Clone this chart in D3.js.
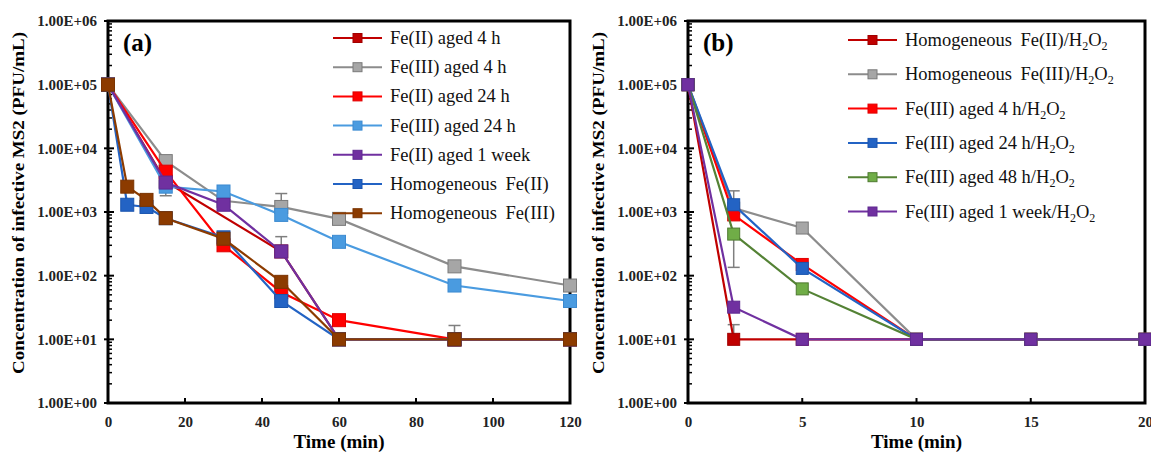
<!DOCTYPE html>
<html>
<head>
<meta charset="utf-8">
<script src="https://cdn.jsdelivr.net/npm/d3@7"></script>
<style>
  body { margin: 0; background: #fff; }
  svg { display: block; font-family: "Liberation Serif", "Times New Roman", serif; }
</style>
</head>
<body>
<div id="chart"></div>
<script>
// ---- data ----
const yTicks = [1, 10, 100, 1e3, 1e4, 1e5, 1e6];
const xTicksA = [0, 20, 40, 60, 80, 100, 120];
const xTicksB = [0, 5, 10, 15, 20];

// panel (a): time points, null = not measured / hidden
const timesA = [0, 5, 10, 15, 30, 45, 60, 90, 120];
const fe2Aged4h   = [1e5, null, null, 3000, null, 240, 10, 10, 10];
const fe3Aged4h   = [1e5, null, null, 6300, 1500, 1200, 780, 140, 70];
const fe2Aged24h  = [1e5, null, null, 4300, 300, 55, 20, 10, 10];
const fe3Aged24h  = [1e5, null, null, 2500, 2100, 900, 340, 70, 40];
const fe2Aged1wk  = [1e5, null, null, 2900, 1300, 240, 10, 10, 10];
const homFe2      = [1e5, 1300, 1200, 800, 400, 40, 10, 10, 10];
const homFe3      = [1e5, 2500, 1550, 800, 380, 80, 10, 10, 10];

// panel (b)
const timesB = [0, 2, 5, 10, 15, 20];
const homFe2H2O2    = [1e5, 10, 10, 10, 10, 10];
const homFe3H2O2    = [1e5, 1150, 560, 10, 10, 10];
const fe3Aged4hH2O2  = [1e5, 900, 150, 10, 10, 10];
const fe3Aged24hH2O2 = [1e5, 1300, 130, 10, 10, 10];
const fe3Aged48hH2O2 = [1e5, 450, 62, 10, 10, 10];
const fe3Aged1wkH2O2 = [1e5, 32, 10, 10, 10, 10];

// error bars: [time, from, to]
const errorsA = [[15, 2500, 1800], [45, 1200, 1950], [45, 240, 410], [90, 10, 16.5]];
const errorsB = [[2, 1300, 2150], [2, 450, 135], [2, 10, 17]];

const seriesA = [
  { name: "Fe(II) aged 4 h", values: fe2Aged4h, line: "#C00000", fill: "#C00000", stroke: "#A00000" },
  { name: "Fe(III) aged 4 h", values: fe3Aged4h, line: "#8C8C8C", fill: "#A6A6A6", stroke: "#7A7A7A" },
  { name: "Fe(II) aged 24 h", values: fe2Aged24h, line: "#FF0000", fill: "#FF0000", stroke: "#E00000" },
  { name: "Fe(III) aged 24 h", values: fe3Aged24h, line: "#4A9BE0", fill: "#4A9BE0", stroke: "#3C8AD0" },
  { name: "Fe(II) aged 1 week", values: fe2Aged1wk, line: "#7030A0", fill: "#7030A0", stroke: "#5E2890" },
  { name: "Homogeneous Fe(II)", values: homFe2, line: "#2363C4", fill: "#2363C4", stroke: "#1B55AE" },
  { name: "Homogeneous Fe(III)", values: homFe3, line: "#8C3B00", fill: "#8C3B00", stroke: "#7A3300" }
];
const seriesB = [
  { name: "Homogeneous Fe(II)/", values: homFe2H2O2, line: "#C00000", fill: "#C00000", stroke: "#A00000" },
  { name: "Homogeneous Fe(III)/", values: homFe3H2O2, line: "#8C8C8C", fill: "#A6A6A6", stroke: "#7A7A7A" },
  { name: "Fe(III) aged 4 h/", values: fe3Aged4hH2O2, line: "#FF0000", fill: "#FF0000", stroke: "#E00000" },
  { name: "Fe(III) aged 24 h/", values: fe3Aged24hH2O2, line: "#2363C4", fill: "#2363C4", stroke: "#1B55AE" },
  { name: "Fe(III) aged 48 h/", values: fe3Aged48hH2O2, line: "#548235", fill: "#70AD47", stroke: "#4E7A30" },
  { name: "Fe(III) aged 1 week/", values: fe3Aged1wkH2O2, line: "#7030A0", fill: "#7030A0", stroke: "#5E2890" }
];

const svg = d3.select("#chart").append("svg")
  .attr("width", 1151).attr("height", 453);

const fmtExp = d => "1.00E+" + String(Math.round(Math.log10(d))).padStart(2, "0");

function drawPanel(opt) {
  const x = d3.scaleLinear().domain(opt.xDomain).range([opt.left, opt.right]);
  const y = d3.scaleLog().domain([1, 1e6]).range([403, 21]);
  const g = svg.append("g");

  // tick labels
  g.append("g")
    .attr("transform", `translate(${opt.left},0)`)
    .call(d3.axisLeft(y).tickValues(yTicks).tickFormat(fmtExp).tickSize(0).tickPadding(11))
    .call(a => a.select(".domain").remove())
    .selectAll("text")
    .attr("font-family", "Liberation Serif, serif")
    .attr("font-weight", "bold").attr("font-size", 15).attr("fill", "#222");

  g.append("g")
    .attr("transform", "translate(0,403)")
    .call(d3.axisBottom(x).tickValues(opt.xTicks).tickSize(0).tickPadding(13))
    .call(a => a.select(".domain").remove())
    .selectAll("text")
    .attr("font-family", "Liberation Serif, serif")
    .attr("font-weight", "bold").attr("font-size", 15).attr("fill", "#222");

  // minor y ticks
  const minor = [];
  yTicks.slice(0, -1).forEach(d => { for (let k = 2; k <= 9; k++) minor.push(d * k); });
  g.selectAll(".ymin").data(minor).join("line")
    .attr("x1", opt.left).attr("x2", opt.left + 4)
    .attr("y1", d => y(d)).attr("y2", d => y(d))
    .attr("stroke", "#000").attr("stroke-width", 1.5);
  g.selectAll(".ymaj").data(yTicks).join("line")
    .attr("x1", opt.left - 4).attr("x2", opt.left + 6)
    .attr("y1", d => y(d)).attr("y2", d => y(d))
    .attr("stroke", "#000").attr("stroke-width", 2);
  g.selectAll(".xmaj").data(opt.xTicks.slice(1, -1)).join("line")
    .attr("x1", d => x(d)).attr("x2", d => x(d))
    .attr("y1", 403).attr("y2", 398)
    .attr("stroke", "#000").attr("stroke-width", 2);

  // frame
  g.append("rect")
    .attr("x", opt.left).attr("y", 21)
    .attr("width", opt.right - opt.left).attr("height", 382)
    .attr("fill", "none").attr("stroke", "#000").attr("stroke-width", 3);

  // axis titles
  g.append("text")
    .attr("x", (opt.left + opt.right) / 2).attr("y", 448)
    .attr("text-anchor", "middle")
    .attr("font-weight", "bold").attr("font-size", 19)
    .text("Time (min)");
  g.append("text")
    .attr("transform", `translate(${opt.titleX},203) rotate(-90)`)
    .attr("text-anchor", "middle")
    .attr("font-weight", "bold").attr("font-size", 16)
    .attr("textLength", 342).attr("lengthAdjust", "spacingAndGlyphs")
    .text("Concentration of infective MS2 (PFU/mL)");
  g.append("text")
    .attr("x", opt.left + 15).attr("y", 51)
    .attr("font-weight", "bold").attr("font-size", 25)
    .text(opt.tag);

  // error bars
  const eb = g.selectAll(".err").data(opt.errors).join("g").attr("class", "err");
  eb.append("line")
    .attr("x1", d => x(d[0])).attr("x2", d => x(d[0]))
    .attr("y1", d => y(d[1])).attr("y2", d => y(d[2]))
    .attr("stroke", "#7F7F7F").attr("stroke-width", 1.5);
  eb.append("line")
    .attr("x1", d => x(d[0]) - 6).attr("x2", d => x(d[0]) + 6)
    .attr("y1", d => y(d[2])).attr("y2", d => y(d[2]))
    .attr("stroke", "#7F7F7F").attr("stroke-width", 1.5);

  // series
  const line = d3.line()
    .defined(d => d.v != null)
    .x(d => x(d.t)).y(d => y(d.v));
  const ms = opt.marker;
  opt.series.forEach(s => {
    const pts = opt.times.map((t, i) => ({ t, v: s.values[i] })).filter(d => d.v != null);
    g.append("path").datum(pts)
      .attr("d", line)
      .attr("fill", "none").attr("stroke", s.line).attr("stroke-width", 2.2);
    g.selectAll(null).data(pts).join("rect")
      .attr("x", d => x(d.t) - ms / 2).attr("y", d => y(d.v) - ms / 2)
      .attr("width", ms).attr("height", ms)
      .attr("fill", s.fill).attr("stroke", s.stroke).attr("stroke-width", 1);
  });

  // legend
  const lg = g.selectAll(".leg").data(opt.series).join("g")
    .attr("transform", (d, i) => `translate(${opt.legX},${opt.legY + i * opt.legStep})`);
  lg.append("line").attr("x1", 0).attr("x2", 49)
    .attr("stroke", d => d.line).attr("stroke-width", 2);
  lg.append("rect").attr("x", 20).attr("y", -4.5).attr("width", 9).attr("height", 9)
    .attr("fill", d => d.fill).attr("stroke", d => d.stroke).attr("stroke-width", 1);
  const lt = lg.append("text").attr("x", 57).attr("y", 6)
    .attr("font-size", 18.5).attr("fill", "#111")
    .attr("word-spacing", d => d.name.startsWith("Homogeneous") ? 4 : 0)
    .text(d => d.name);
  if (opt.h2o2) {
    lt.append("tspan").text("H");
    lt.append("tspan").attr("font-size", 12).attr("dy", 4).text("2");
    lt.append("tspan").attr("dy", -4).text("O");
    lt.append("tspan").attr("font-size", 12).attr("dy", 4).text("2");
  }
}

drawPanel({
  left: 108, right: 570, xDomain: [0, 120], xTicks: xTicksA, titleX: 24, tag: "(a)",
  times: timesA, series: seriesA, errors: errorsA, marker: 13,
  legX: 333, legY: 38, legStep: 29.2, h2o2: false
});
drawPanel({
  left: 688, right: 1145, xDomain: [0, 20], xTicks: xTicksB, titleX: 604, tag: "(b)",
  times: timesB, series: seriesB, errors: errorsB, marker: 12,
  legX: 848, legY: 40, legStep: 34.3, h2o2: true
});
</script>
</body>
</html>
